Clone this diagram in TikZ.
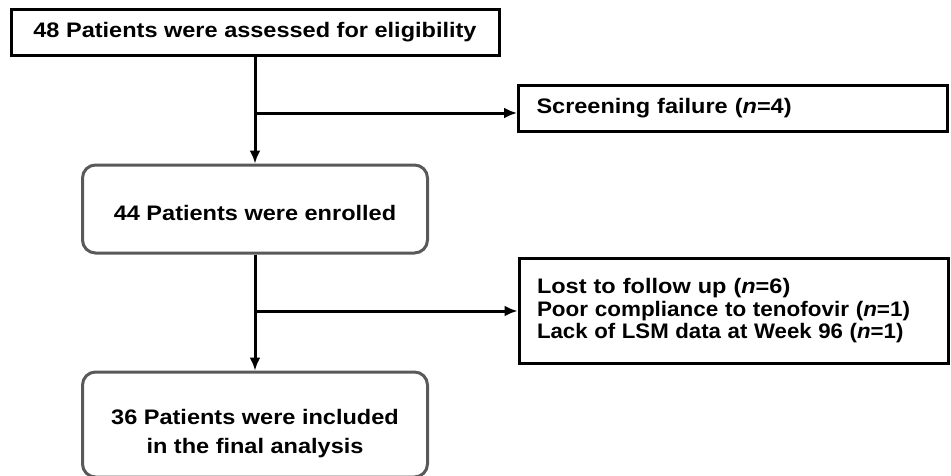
\documentclass[tikz,border=0pt]{standalone}
\usepackage{fontspec}
\setmainfont{Liberation Sans}[FakeStretch=1.12]
\usepackage{tikz}
\usetikzlibrary{shapes,arrows,arrows.meta}
\definecolor{boxgray}{HTML}{595959}
\tikzstyle{block} = [draw, rectangle, line width=3pt, inner sep=0pt, font=\bfseries\fontsize{21}{22.5}\selectfont]
\tikzstyle{rblock} = [draw=boxgray, rectangle, rounded corners=13pt, line width=3pt, align=center, minimum width=345pt, font=\bfseries\fontsize{21}{29}\selectfont]
\tikzstyle{side} = [block, minimum width=429pt, text width=393pt, inner xsep=18pt, align=left]
\tikzstyle{tmp} = [coordinate]

\begin{document}
\begin{tikzpicture}[auto, x=1pt, y=-1pt, node distance=1cm, >={Latex[length=13pt,width=11pt]}, line width=3pt]
            \useasboundingbox (0,0) rectangle (951,475);
            \node [block, minimum width=488pt, minimum height=46pt] (assess) at (255,32) {48 Patients were assessed for eligibility};
            \node [tmp, below of=assess, node distance=81pt] (tmp1) {};
            \node [side, right of=tmp1, node distance=478pt, yshift=5pt, minimum height=46pt] (fail) {Screening failure (\textit{n}=4)};
            \node [rblock, below of=assess, node distance=177pt, minimum height=88pt, text height=23pt] (enrol) {44 Patients were enrolled};
            \node [tmp, below of=enrol, node distance=102pt] (tmp2) {};
            \node [side, right of=tmp2, node distance=478.5pt, minimum height=105pt] (lost) {\mbox{Lost to follow up (\textit{n}=6)}\\\scalebox{0.955}[1]{Poor compliance to tenofovir (\textit{n}=1)}\\\scalebox{0.945}[1]{Lack of LSM data at Week 96 (\textit{n}=1)}};
            \node [rblock, below of=enrol, node distance=215.5pt, minimum height=105pt, text height=62pt] (final) {36 Patients were included\\in the final analysis};

            \draw [->] (assess) -- (enrol);
            \draw [->] (tmp1) -- (fail.west |- tmp1);
            \draw [->] (enrol) -- (final);
            \draw [->] (tmp2) -- (lost.west |- tmp2);
\end{tikzpicture}
\end{document}
